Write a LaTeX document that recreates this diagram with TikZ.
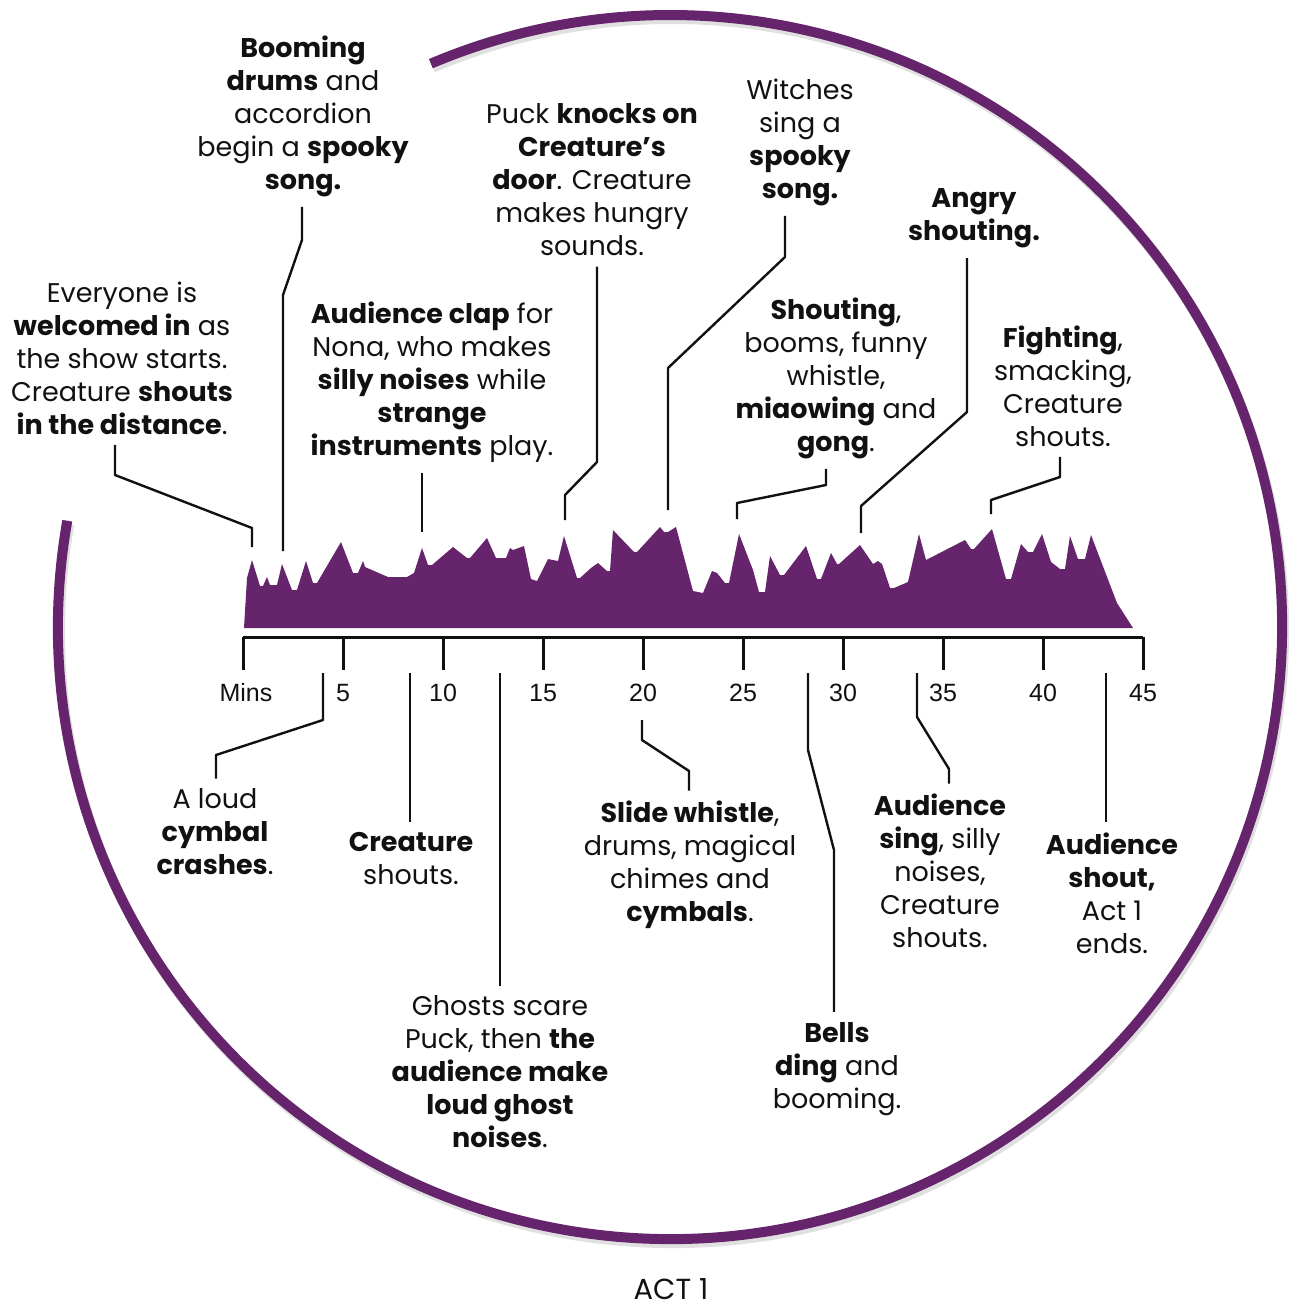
\documentclass[tikz,border=0pt]{standalone}
\usepackage{fontspec}
\setmainfont{Poppins}
\newfontfamily\axisfont{Liberation Sans}
\usetikzlibrary{positioning}
\definecolor{Plum}{HTML}{66246C}
\definecolor{Ink}{HTML}{111111}
\tikzset{
  cue/.style={align=center,inner sep=5pt,text=Ink,
              font=\fontsize{13.5}{16.5}\selectfont},
  lead/.style={draw=Ink,line width=1.2pt,line join=round},
  axisline/.style={draw=Ink,line width=1.5pt},
  minute/.style={font=\axisfont\fontsize{12.5}{14}\selectfont,text=Ink,inner sep=1pt},
  ring/.style={draw=Plum,line width=5pt},
  ringshade/.style={draw=black,line width=5pt,opacity=0.12}
}

\begin{document}
\begin{tikzpicture}[x=0.5pt,y=-0.5pt]
  \useasboundingbox (0,0) rectangle (1292,1312);

  \draw[ringshade] (672,631) ++(190:612) arc[start angle=190,end angle=-113,radius=612];
  \draw[ring] (670,627) ++(190:612) arc[start angle=190,end angle=-113,radius=612];

  \fill[Plum] (244,628) -- (247,578) -- (252,560) -- (260,586) -- (263,586) -- (267,577)
    -- (270,585) -- (277,585) -- (282,564) -- (292,590) -- (297,590) -- (306,561)
    -- (313,583) -- (317,583) -- (341,542) -- (353,573) -- (358,573) -- (363,561)
    -- (365,567) -- (388,577) -- (407,577) -- (414,573) -- (422,548) -- (428,565)
    -- (432,565) -- (453,547) -- (467,558) -- (470,558) -- (487,538) -- (496,558)
    -- (506,558) -- (510,548) -- (513,550) -- (524,546) -- (531,579) -- (537,581)
    -- (548,559) -- (558,561) -- (564,536) -- (577,578) -- (580,578) -- (591,568)
    -- (598,563) -- (607,571) -- (610,571) -- (613,530) -- (634,552) -- (637,552)
    -- (660,527) -- (664,532) -- (668,532) -- (676,527) -- (693,591) -- (703,593)
    -- (712,571) -- (717,573) -- (725,583) -- (729,583) -- (739,534) -- (753,570)
    -- (759,592) -- (765,592) -- (770,556) -- (780,575) -- (784,575) -- (806,546)
    -- (817,579) -- (821,579) -- (831,553) -- (837,564) -- (839,564) -- (860,545)
    -- (873,564) -- (878,561) -- (882,564) -- (890,588) -- (894,588) -- (908,582)
    -- (919,534) -- (926,560) -- (965,540) -- (971,549) -- (974,549) -- (992,529)
    -- (1006,579) -- (1011,579) -- (1021,544) -- (1028,552) -- (1033,552) -- (1042,534)
    -- (1051,562) -- (1060,569) -- (1065,569) -- (1070,536) -- (1078,559) -- (1085,559)
    -- (1091,535) -- (1117,603) -- (1133,628) -- cycle;

  \draw[axisline] (243,637) -- (1143,637);
  \foreach \m in {0,5,...,45}
    \draw[axisline] ({243+20*\m},637) -- ++(0,33);
  \node[minute] (mins) at (246,693) {Mins};
  \foreach \m in {5,10,...,45}
    \node[minute] (tick\m) at ({243+20*\m},693) {\m};

  \coordinate (pk-welcome) at (252,547);
  \coordinate (pk-booming) at (283,551);
  \coordinate (pk-clap) at (422,532);
  \coordinate (pk-knock) at (565,520);
  \coordinate (pk-witches) at (668,510);
  \coordinate (pk-shouting) at (737,519);
  \coordinate (pk-angry) at (861,533);
  \coordinate (pk-fighting) at (991,514);
  \coordinate (ft-cymbal) at (323,673);
  \coordinate (ft-creature) at (410,673);
  \coordinate (ft-ghosts) at (500,673);
  \coordinate (ft-slide) at (642,720);
  \coordinate (ft-bells) at (808,673);
  \coordinate (ft-sing) at (917,673);
  \coordinate (ft-shout) at (1106,673);

  \node[cue] (welcome) at (122,358) {Everyone is\\\textbf{welcomed in} as\\the show starts.\\Creature \textbf{shouts}\\\textbf{in the distance}.};
  \node[cue] (booming) at (303,116) {\textbf{Booming}\\\textbf{drums} and\\accordion\\begin a \textbf{spooky}\\\textbf{song.}};
  \node[cue] (clap) at (432,382) {\textbf{Audience clap} for\\Nona, who makes\\\textbf{silly noises} while\\\textbf{strange}\\\textbf{instruments} play.};
  \node[cue] (knock) at (592,180) {Puck \textbf{knocks on}\\\textbf{Creature’s}\\\textbf{door}. Creature\\makes hungry\\sounds.};
  \node[cue] (witches) at (800,142) {Witches\\sing a\\\textbf{spooky}\\\textbf{song.}};
  \node[cue] (shouting) at (836,378) {\textbf{Shouting},\\booms, funny\\whistle,\\\textbf{miaowing} and\\\textbf{gong}.};
  \node[cue] (angry) at (974,218) {\textbf{Angry}\\\textbf{shouting.}};
  \node[cue] (fighting) at (1063,386) {\textbf{Fighting},\\smacking,\\Creature\\shouts.};
  \node[cue] (cymbal) at (215,832) {A loud\\\textbf{cymbal}\\\textbf{crashes}.};
  \node[cue] (creature) at (411,859) {\textbf{Creature}\\shouts.};
  \node[cue] (ghosts) at (500,1072) {Ghosts scare\\Puck, then \textbf{the}\\\textbf{audience make}\\\textbf{loud ghost}\\\textbf{noises}.};
  \node[cue] (slide) at (690,865) {\textbf{Slide whistle},\\drums, magical\\chimes and\\\textbf{cymbals}.};
  \node[cue] (bells) at (837,1069) {\textbf{Bells}\\\textbf{ding} and\\booming.};
  \node[cue] (sing) at (940,871) {\textbf{Audience}\\\textbf{sing}, silly\\noises,\\Creature\\shouts.};
  \node[cue] (shout) at (1112,893) {\textbf{Audience}\\\textbf{shout,}\\Act 1\\ends.};
  \node[cue,inner sep=0pt,font=\fontsize{14.5}{16}\selectfont] (act) at (671,1289) {ACT 1};

  \draw[lead] ([xshift=-3.5pt]welcome.south) -- (115,475) -- (252,528) -- (pk-welcome);
  \draw[lead] ([xshift=-0.5pt]booming.south) -- (302,240) -- (283,295) -- (pk-booming);
  \draw[lead] ([xshift=-5pt]clap.south) -- (pk-clap);
  \draw[lead] ([xshift=2.5pt]knock.south) -- (597,462) -- (565,495) -- (pk-knock);
  \draw[lead] ([xshift=-7.5pt]witches.south) -- (785,257) -- (668,368) -- (pk-witches);
  \draw[lead] ([xshift=-5pt]shouting.south) -- (826,485) -- (737,503) -- (pk-shouting);
  \draw[lead] ([xshift=-3.5pt]angry.south) -- (967,412) -- (861,506) -- (pk-angry);
  \draw[lead] ([xshift=-1.5pt]fighting.south) -- (1060,477) -- (991,500) -- (pk-fighting);

  \draw[lead] (ft-cymbal) -- (323,720) -- (216,755) -- ([xshift=0.5pt]cymbal.north);
  \draw[lead] (ft-creature) -- ([xshift=-0.5pt]creature.north);
  \draw[lead] (ft-ghosts) -- (ghosts.north);
  \draw[lead] (ft-slide) -- (642,740) -- (689,771) -- ([xshift=-0.5pt]slide.north);
  \draw[lead] (ft-bells) -- (808,750) -- (834,850) -- ([xshift=-1.5pt]bells.north);
  \draw[lead] (ft-sing) -- (917,717) -- (949,769) -- ([xshift=4.5pt]sing.north);
  \draw[lead] (ft-shout) -- ([xshift=-3pt]shout.north);
\end{tikzpicture}
\end{document}
